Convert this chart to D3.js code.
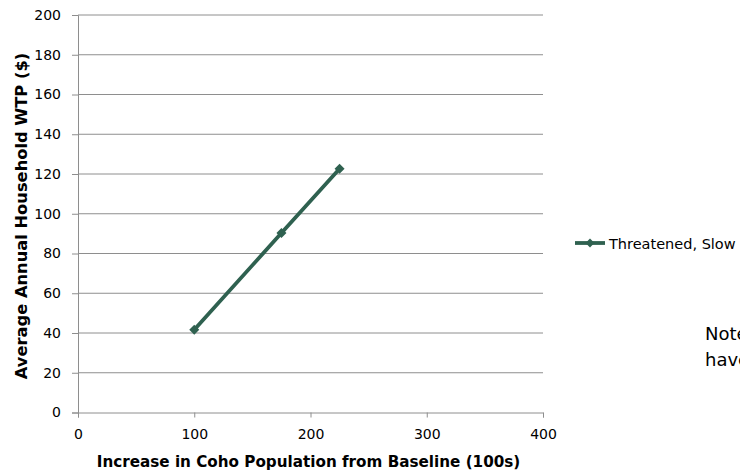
<!DOCTYPE html>
<html>
<head>
<meta charset="utf-8">
<script src="https://cdn.jsdelivr.net/npm/d3@7"></script>
<style>
  html, body { margin: 0; padding: 0; background: #fff; }
  svg { display: block; }
  text { font-family: "Gill Sans", "DejaVu Sans", sans-serif; fill: #000; }
</style>
</head>
<body>
<svg id="chart" width="740" height="473"></svg>
<script>
// Willingness-to-pay by increase in coho population
const seriesName = "Threatened, Slow";
const increase = [100, 175, 225];          // x values (100s of fish)
const wtp = [41.6, 90.3, 122.6];           // average annual household WTP ($)
const xTicks = [0, 100, 200, 300, 400];
const yTicks = [0, 20, 40, 60, 80, 100, 120, 140, 160, 180, 200];
const noteLines = ["Note", "have"];

const svg = d3.select("#chart");
const plotLeft = 78, plotRight = 543, plotTop = 15, plotBottom = 412.5;
const lineColor = "#2f6150";
const gridColor = "#8e8e8e";
const fontStack = "'Gill Sans', 'DejaVu Sans', sans-serif";

const x = d3.scaleLinear().domain([0, 400]).range([plotLeft, plotRight]);
const y = d3.scaleLinear().domain([0, 200]).range([plotBottom, plotTop]);

// horizontal gridlines
svg.append("g")
  .selectAll("line")
  .data(yTicks.filter(d => d > 0))
  .join("line")
  .attr("x1", plotLeft).attr("x2", plotRight)
  .attr("y1", d => y(d)).attr("y2", d => y(d))
  .attr("stroke", gridColor).attr("stroke-width", 1);

// y axis
const yAxis = svg.append("g")
  .attr("transform", `translate(${plotLeft},0)`)
  .call(d3.axisLeft(y).tickValues(yTicks).tickSize(6).tickPadding(11));
yAxis.select(".domain").attr("stroke", gridColor);
yAxis.selectAll(".tick line").attr("stroke", gridColor);
yAxis.selectAll(".tick text").attr("font-size", 14).attr("fill", "#000")
  .style("font-family", fontStack);

// x axis
const xAxis = svg.append("g")
  .attr("transform", `translate(0,${plotBottom})`)
  .call(d3.axisBottom(x).tickValues(xTicks).tickSize(5).tickPadding(12));
xAxis.select(".domain").attr("stroke", gridColor);
xAxis.selectAll(".tick line").attr("stroke", gridColor);
xAxis.selectAll(".tick text").attr("font-size", 14).attr("fill", "#000")
  .style("font-family", fontStack);

// axis titles
svg.append("text")
  .attr("x", 308.5)
  .attr("y", 467)
  .attr("text-anchor", "middle")
  .attr("font-size", 15.2)
  .attr("font-weight", "bold")
  .text("Increase in Coho Population from Baseline (100s)");

svg.append("text")
  .attr("transform", "translate(27,216) rotate(-90)")
  .attr("text-anchor", "middle")
  .attr("font-size", 16.3)
  .attr("font-weight", "bold")
  .text("Average Annual Household WTP ($)");

// series line and diamond markers
const pts = increase.map((v, i) => [v, wtp[i]]);
svg.append("path")
  .datum(pts)
  .attr("fill", "none")
  .attr("stroke", lineColor)
  .attr("stroke-width", 3.8)
  .attr("d", d3.line().x(d => x(d[0])).y(d => y(d[1])));

const diamond = d3.symbol().type(d3.symbolDiamond2).size(64);
svg.append("g")
  .selectAll("path")
  .data(pts)
  .join("path")
  .attr("transform", d => `translate(${x(d[0])},${y(d[1])})`)
  .attr("d", diamond)
  .attr("fill", lineColor);

// legend
const lg = svg.append("g").attr("transform", "translate(575,243)");
lg.append("line").attr("x1", 0).attr("x2", 30).attr("y1", 0).attr("y2", 0)
  .attr("stroke", lineColor).attr("stroke-width", 3.8);
lg.append("path").attr("transform", "translate(15,0)")
  .attr("d", d3.symbol().type(d3.symbolDiamond2).size(50)).attr("fill", lineColor);
lg.append("text").attr("x", 34).attr("y", 5.5).attr("font-size", 14.5).text(seriesName);

// note text at the right edge
svg.append("g")
  .selectAll("text")
  .data(noteLines)
  .join("text")
  .attr("x", 705)
  .attr("y", (d, i) => 339.5 + i * 26)
  .attr("font-size", 18)
  .text(d => d);
</script>
</body>
</html>
